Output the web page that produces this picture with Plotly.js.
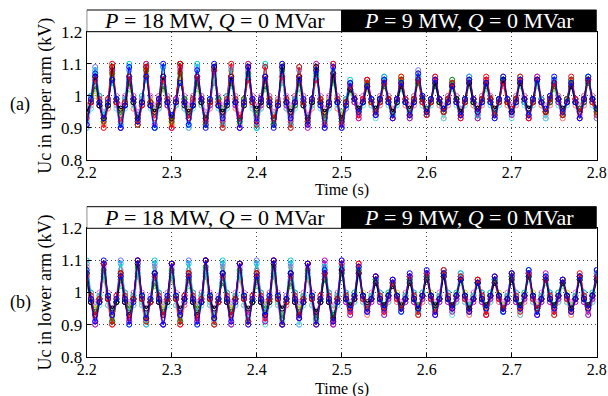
<!DOCTYPE html>
<html><head><meta charset="utf-8">
<script src="https://cdn.plot.ly/plotly-3.0.1.min.js"></script>
<style>html,body{margin:0;padding:0;background:#fff}#chart{width:608px;height:396px}</style>
</head><body><div id="chart"></div>
<script>
// sampling of every trace: first sample time and step (s)
const tStart = 2.2;
const tStep = 0.005;

const xTicks = [2.2, 2.3, 2.4, 2.5, 2.6, 2.7, 2.8];
const xTickText = ['2.2', '2.3', '2.4', '2.5', '2.6', '2.7', '2.8'];
const yTicks = [0.8, 0.9, 1.0, 1.1, 1.2];
const yTickText = ['0.8', '0.9', '1', '1.1', '1.2'];
const xTitle = 'Time (s)';
const yTitles = ['Uc in upper arm (kV)', 'Uc in lower arm (kV)'];
const panelLabels = ['(a)', '(b)'];

const stageLabels = ['<i>P</i> = 18 MW, <i>Q</i> = 0 MVar', '<i>P</i> = 9 MW, <i>Q</i> = 0 MVar'];
const stageChange = 2.5;

const traceColors = ['#ff7070', '#7070ff', '#d2d200', '#60d060', '#e070e0', '#60e0e0', '#c000c0', '#00d0d0', '#008000', '#000000', '#ff0000', '#0000ff'];

// Upper arm capacitor voltages (kV)
const upPink = [0.94,0.97,1.04,0.97, 0.91,0.96,1.07,0.97, 0.93,0.97,1.05,0.96, 0.92,0.97,1.08,0.97, 0.94,0.96,1.04,0.97, 0.91,0.97,1.08,0.96, 0.93,0.97,1.05,0.97, 0.92,0.96,1.07,0.97, 0.94,0.97,1.04,0.96, 0.91,0.97,1.08,0.97, 0.93,0.96,1.05,0.97, 0.92,0.97,1.07,0.96, 0.94,0.97,1.04,0.97, 0.91,0.96,1.08,0.97, 0.92,0.97,1.07,0.96, 0.91,
 0.97,1.02,0.98,0.93, 0.98,1.03,0.97,0.94, 0.97,1.04,0.98,0.93, 0.98,1.05,0.97,0.94, 0.97,1.04,0.98,0.95, 0.98,1.05,0.97,0.93, 0.97,1.03,0.98,0.94, 0.98,1.04,0.97,0.93, 0.97,1.05,0.98,0.94, 0.98,1.03,0.97,0.95, 0.97,1.04,0.98,0.93, 0.98,1.05,0.97,0.94, 0.97,1.04,0.98,0.93, 0.98,1.03,0.97,0.94, 0.97,1.05,0.98,0.93];
const upLightBlue = [0.90,0.98,1.09,0.98, 0.94,0.99,1.05,0.98, 0.91,0.98,1.08,0.99, 0.93,0.99,1.06,0.98, 0.90,0.98,1.09,0.99, 0.93,0.98,1.05,0.98, 0.90,0.99,1.09,0.98, 0.94,0.98,1.04,0.99, 0.91,0.98,1.09,0.98, 0.93,0.99,1.05,0.99, 0.90,0.98,1.09,0.98, 0.93,0.99,1.05,0.98, 0.91,0.98,1.08,0.99, 0.94,0.98,1.05,0.98, 0.90,0.99,1.10,0.98, 0.90,
 0.96,1.03,0.98,0.95, 0.98,1.04,0.99,0.94, 0.99,1.06,0.98,0.94, 0.98,1.05,0.99,0.93, 0.99,1.08,0.98,0.94, 0.98,1.06,0.99,0.95, 0.99,1.04,0.98,0.93, 0.98,1.05,0.99,0.94, 0.99,1.04,0.98,0.93, 0.98,1.06,0.99,0.95, 0.99,1.05,0.98,0.94, 0.98,1.06,0.99,0.93, 0.99,1.04,0.98,0.94, 0.98,1.05,0.99,0.95, 0.99,1.06,0.98,0.93];
const upYellow = [0.96,1.00,1.00,1.00, 0.92,0.98,1.09,0.99, 0.95,0.99,1.04,1.00, 0.93,0.98,1.10,0.99, 0.96,1.00,1.03,1.00, 0.91,0.98,1.10,0.99, 0.95,0.99,1.05,1.00, 0.93,0.98,1.09,0.99, 0.96,1.00,1.04,1.00, 0.91,0.99,1.10,0.99, 0.95,0.98,1.04,1.00, 0.92,0.99,1.10,0.99, 0.96,1.00,1.05,1.00, 0.91,0.98,1.09,0.99, 0.94,0.99,1.06,1.00, 0.94,
 0.99,1.03,1.00,0.96, 0.99,1.05,0.99,0.95, 1.00,1.04,1.00,0.96, 0.99,1.06,0.99,0.95, 1.00,1.07,1.00,0.96, 0.99,1.05,0.99,0.95, 1.00,1.04,1.00,0.96, 0.99,1.05,0.99,0.95, 1.00,1.05,1.00,0.96, 0.99,1.06,0.99,0.95, 1.00,1.04,1.00,0.96, 0.99,1.06,0.99,0.95, 1.00,1.05,1.00,0.96, 0.99,1.04,0.99,0.95, 1.00,1.06,1.00,0.96];
const upLightGreen = [0.96,0.98,1.02,0.98, 0.94,0.97,1.05,0.98, 0.96,0.98,1.02,0.99, 0.93,0.98,1.06,0.97, 0.96,0.98,1.02,0.98, 0.94,0.97,1.05,0.98, 0.96,0.99,1.02,0.98, 0.93,0.98,1.06,0.97, 0.96,0.98,1.03,0.98, 0.94,0.97,1.05,0.99, 0.96,0.98,1.02,0.98, 0.93,0.98,1.06,0.97, 0.96,0.99,1.02,0.98, 0.94,0.97,1.05,0.98, 0.95,0.98,1.04,0.98, 0.95,
 0.98,1.01,0.98,0.96, 0.98,1.02,0.98,0.96, 0.99,1.03,0.98,0.95, 0.98,1.02,0.98,0.96, 0.99,1.04,0.98,0.96, 0.98,1.03,0.98,0.95, 0.99,1.02,0.98,0.96, 0.98,1.03,0.98,0.96, 0.99,1.02,0.98,0.95, 0.98,1.04,0.98,0.96, 0.99,1.03,0.98,0.96, 0.98,1.03,0.98,0.95, 0.99,1.02,0.98,0.96, 0.98,1.03,0.98,0.96, 0.99,1.04,0.98,0.95];
const upLightMagenta = [0.97,1.00,1.04,1.00, 0.95,0.99,1.08,1.00, 0.97,1.00,1.03,1.00, 0.95,0.99,1.07,1.00, 0.97,1.00,1.04,1.00, 0.94,0.99,1.08,1.00, 0.97,1.00,1.03,1.00, 0.95,0.99,1.07,1.00, 0.97,1.00,1.04,1.00, 0.94,0.99,1.08,1.00, 0.97,1.00,1.03,1.00, 0.95,0.99,1.07,1.00, 0.97,1.00,1.04,1.00, 0.94,0.99,1.08,1.00, 0.96,1.00,1.05,1.00, 0.93,
 0.99,1.04,1.00,0.97, 1.00,1.03,0.99,0.96, 1.00,1.05,1.00,0.96, 0.99,1.04,0.99,0.97, 1.00,1.05,1.00,0.96, 0.99,1.04,0.99,0.97, 1.00,1.03,1.00,0.96, 0.99,1.04,0.99,0.97, 1.00,1.05,1.00,0.96, 0.99,1.04,0.99,0.97, 1.00,1.05,1.00,0.96, 0.99,1.04,0.99,0.97, 1.00,1.03,1.00,0.96, 0.99,1.04,0.99,0.97, 1.00,1.05,1.00,0.96];
const upLightCyan = [0.90,0.96,1.04,0.97, 0.92,0.97,1.06,0.96, 0.90,0.96,1.05,0.97, 0.91,0.97,1.07,0.96, 0.90,0.96,1.04,0.97, 0.92,0.97,1.06,0.96, 0.90,0.96,1.05,0.97, 0.91,0.97,1.07,0.96, 0.90,0.96,1.04,0.97, 0.92,0.97,1.06,0.96, 0.90,0.96,1.05,0.97, 0.91,0.97,1.07,0.96, 0.90,0.96,1.04,0.97, 0.92,0.97,1.06,0.96, 0.91,0.96,1.08,0.97, 0.92,
 0.97,1.03,0.98,0.94, 0.97,1.04,0.97,0.93, 0.98,1.05,0.97,0.94, 0.97,1.04,0.98,0.93, 0.98,1.06,0.97,0.94, 0.97,1.05,0.98,0.93, 0.98,1.04,0.97,0.94, 0.97,1.05,0.98,0.93, 0.98,1.04,0.97,0.94, 0.97,1.05,0.98,0.93, 0.98,1.06,0.97,0.94, 0.97,1.04,0.98,0.93, 0.98,1.05,0.97,0.94, 0.97,1.04,0.98,0.93, 0.98,1.05,0.97,0.94];
const upMagenta = [0.91,0.98,1.06,0.97, 0.93,0.97,1.08,0.98, 0.90,0.98,1.05,0.99, 0.94,0.97,1.10,0.98, 0.91,0.98,1.06,0.97, 0.90,0.99,1.09,0.98, 0.93,0.98,1.05,0.99, 0.91,0.97,1.09,0.98, 0.92,0.98,1.06,0.97, 0.90,0.98,1.10,0.99, 0.93,0.97,1.05,0.98, 0.91,0.98,1.09,0.97, 0.92,0.99,1.06,0.98, 0.90,0.98,1.10,0.98, 0.93,0.97,1.06,0.99, 0.92,
 0.98,1.04,0.98,0.93, 0.99,1.05,0.99,0.94, 0.98,1.05,0.98,0.95, 0.99,1.04,0.99,0.93, 0.98,1.06,0.98,0.94, 0.99,1.05,0.99,0.95, 0.98,1.04,0.98,0.94, 0.99,1.06,0.99,0.93, 0.98,1.05,0.98,0.95, 0.99,1.04,0.99,0.94, 0.98,1.05,0.98,0.93, 0.99,1.06,0.99,0.95, 0.98,1.05,0.98,0.94, 0.99,1.04,0.99,0.93, 0.98,1.05,0.98,0.95];
const upCyan = [0.92,1.00,1.08,1.00, 0.94,0.99,1.04,0.99, 0.91,0.99,1.10,0.99, 0.93,1.00,1.05,0.98, 0.90,0.99,1.09,0.99, 0.94,0.98,1.04,0.99, 0.91,0.99,1.10,0.98, 0.93,0.99,1.05,0.99, 0.91,1.00,1.08,0.99, 0.92,0.98,1.06,0.98, 0.90,0.99,1.10,0.99, 0.94,0.98,1.04,0.99, 0.91,0.99,1.09,0.98, 0.93,0.99,1.06,0.99, 0.92,0.98,1.07,0.99, 0.93,
 0.99,1.05,0.99,0.95, 0.98,1.03,0.99,0.96, 0.99,1.06,0.98,0.94, 0.98,1.05,0.99,0.95, 0.99,1.06,0.99,0.94, 0.98,1.04,0.98,0.96, 0.99,1.03,0.99,0.95, 0.98,1.06,0.99,0.94, 0.99,1.04,0.98,0.95, 0.98,1.05,0.99,0.96, 0.99,1.06,0.98,0.94, 0.98,1.04,0.99,0.95, 0.99,1.05,0.99,0.94, 0.98,1.04,0.98,0.96, 0.99,1.06,0.99,0.95];
const upGreen = [0.95,0.98,1.03,0.98, 0.92,0.97,1.07,0.99, 0.94,0.98,1.04,0.98, 0.91,0.98,1.08,0.98, 0.95,0.99,1.03,0.98, 0.92,0.98,1.07,0.99, 0.94,0.97,1.04,0.98, 0.91,0.98,1.08,0.99, 0.95,0.98,1.04,0.98, 0.92,0.99,1.07,0.98, 0.94,0.98,1.03,0.99, 0.91,0.98,1.08,0.98, 0.95,0.97,1.04,0.98, 0.92,0.98,1.07,0.99, 0.93,0.98,1.05,0.98, 0.92,
 0.97,1.02,0.99,0.96, 0.98,1.04,0.98,0.95, 0.98,1.03,0.99,0.95, 0.99,1.05,0.98,0.94, 0.98,1.04,0.99,0.96, 0.99,1.03,0.98,0.95, 0.98,1.05,0.99,0.95, 0.99,1.04,0.98,0.96, 0.98,1.03,0.99,0.94, 0.99,1.05,0.98,0.95, 0.98,1.04,0.99,0.96, 0.99,1.05,0.98,0.95, 0.98,1.03,0.99,0.94, 0.99,1.05,0.98,0.96, 0.98,1.04,0.99,0.95];
const upBlack = [0.95,0.98,1.06,0.97, 0.93,0.97,1.09,0.98, 0.96,0.97,1.06,0.98, 0.93,0.98,1.09,0.97, 0.95,0.97,1.06,0.98, 0.93,0.98,1.10,0.97, 0.95,0.97,1.06,0.98, 0.93,0.98,1.09,0.97, 0.95,0.97,1.06,0.98, 0.93,0.97,1.09,0.98, 0.96,0.98,1.06,0.97, 0.93,0.97,1.09,0.98, 0.95,0.98,1.06,0.97, 0.93,0.98,1.09,0.98, 0.95,0.97,1.07,0.98, 0.93,
 0.98,1.02,0.99,0.96, 0.98,1.03,0.98,0.96, 0.99,1.04,0.99,0.95, 0.98,1.03,0.98,0.96, 0.99,1.05,0.99,0.95, 0.98,1.04,0.98,0.96, 0.99,1.03,0.99,0.95, 0.98,1.04,0.98,0.96, 0.99,1.04,0.99,0.96, 0.98,1.05,0.98,0.95, 0.99,1.04,0.99,0.96, 0.98,1.05,0.98,0.95, 0.99,1.04,0.99,0.96, 0.98,1.03,0.98,0.95, 0.99,1.05,0.99,0.96];
const upRed = [0.93,0.98,1.05,0.99, 0.90,0.99,1.10,0.98, 0.92,0.98,1.06,0.99, 0.91,0.97,1.09,0.98, 0.93,0.99,1.05,0.99, 0.90,0.98,1.10,0.98, 0.93,0.99,1.06,0.99, 0.92,0.98,1.08,0.98, 0.90,0.99,1.10,0.99, 0.93,0.98,1.05,0.98, 0.91,0.99,1.09,0.99, 0.93,0.98,1.06,0.99, 0.90,0.98,1.09,0.98, 0.92,0.99,1.05,0.99, 0.91,0.98,1.10,0.99, 0.91,
 0.98,1.03,0.99,0.94, 0.99,1.05,0.98,0.95, 0.98,1.04,0.99,0.93, 0.99,1.06,0.99,0.94, 0.99,1.05,0.98,0.94, 0.98,1.06,0.99,0.95, 0.99,1.04,0.98,0.93, 0.98,1.05,0.99,0.95, 0.99,1.06,0.99,0.94, 0.98,1.04,0.98,0.96, 0.99,1.06,0.99,0.93, 0.98,1.05,0.98,0.95, 0.99,1.04,0.99,0.94, 0.98,1.06,0.99,0.95, 0.99,1.05,0.98,0.94];
const upBlue = [0.91,0.99,1.07,0.98, 0.93,0.98,1.05,0.99, 0.90,0.97,1.09,0.99, 0.92,0.98,1.06,0.97, 0.90,0.99,1.10,0.98, 0.94,0.98,1.04,0.98, 0.91,0.97,1.08,0.99, 0.90,0.99,1.10,0.97, 0.93,0.98,1.05,0.98, 0.90,0.98,1.09,0.99, 0.92,0.99,1.06,0.98, 0.90,0.97,1.10,0.98, 0.93,0.98,1.05,0.99, 0.91,0.99,1.08,0.97, 0.90,0.98,1.09,0.98, 0.90,
 0.97,1.04,0.99,0.95, 0.98,1.03,0.99,0.94, 0.99,1.05,0.98,0.93, 0.99,1.04,0.98,0.94, 0.98,1.07,1.00,0.95, 0.99,1.05,0.99,0.96, 0.98,1.03,0.98,0.94, 0.99,1.05,0.99,0.95, 0.98,1.04,0.98,0.93, 0.99,1.06,0.99,0.95, 0.98,1.05,0.99,0.94, 0.99,1.05,0.98,0.96, 1.00,1.06,0.99,0.95, 0.98,1.04,0.98,0.93, 0.99,1.06,0.99,0.96];

// Lower arm capacitor voltages (kV)
const loPink = [1.08,0.97,0.92,0.97, 1.04,0.96,0.90,0.97, 1.07,0.97,0.93,0.96, 1.05,0.96,0.90,0.97, 1.08,0.97,0.92,0.97, 1.04,0.96,0.90,0.96, 1.07,0.97,0.93,0.97, 1.05,0.96,0.90,0.97, 1.08,0.97,0.92,0.96, 1.04,0.96,0.90,0.97, 1.07,0.97,0.93,0.97, 1.05,0.96,0.90,0.96, 1.08,0.97,0.92,0.97, 1.04,0.96,0.91,0.97, 1.06,0.97,0.90,0.96, 1.09,
 0.98,0.94,0.97,1.09, 0.97,0.93,0.98,1.04, 0.98,0.94,0.97,1.03, 0.97,0.95,0.98,1.05, 0.98,0.93,0.97,1.05, 0.97,0.94,0.98,1.06, 0.98,0.95,0.97,1.04, 0.97,0.93,0.98,1.04, 0.98,0.94,0.97,1.03, 0.97,0.95,0.98,1.05, 0.98,0.93,0.97,1.06, 0.97,0.94,0.98,1.05, 0.98,0.95,0.97,1.03, 0.97,0.93,0.98,1.05, 0.98,0.94,0.97,1.06];
const loLightBlue = [1.09,0.98,0.91,0.98, 1.06,0.99,0.94,0.98, 1.10,0.98,0.91,0.99, 1.05,0.99,0.93,0.98, 1.09,0.98,0.90,0.98, 1.06,0.99,0.94,0.99, 1.10,0.98,0.91,0.98, 1.05,0.99,0.93,0.98, 1.09,0.98,0.90,0.99, 1.06,0.99,0.94,0.98, 1.10,0.98,0.91,0.98, 1.05,0.99,0.93,0.99, 1.09,0.98,0.90,0.98, 1.06,0.99,0.94,0.98, 1.09,0.98,0.90,0.99, 1.08,
 0.99,0.95,0.98,1.08, 0.98,0.94,0.99,1.05, 0.99,0.96,0.98,1.04, 0.98,0.94,0.99,1.05, 0.99,0.95,0.98,1.06, 0.98,0.94,0.99,1.07, 0.99,0.96,0.98,1.06, 0.98,0.94,0.99,1.03, 0.99,0.95,0.98,1.05, 0.98,0.94,0.99,1.06, 0.99,0.96,0.98,1.06, 0.98,0.94,0.99,1.05, 0.99,0.95,0.98,1.04, 0.98,0.94,0.99,1.05, 0.99,0.96,0.98,1.07];
const loYellow = [1.04,1.00,0.95,0.99, 1.09,0.99,0.91,0.98, 1.04,1.00,0.96,0.99, 1.10,0.99,0.91,0.98, 1.05,1.00,0.95,0.99, 1.09,0.99,0.92,0.98, 1.04,1.00,0.96,0.99, 1.10,0.99,0.91,0.98, 1.05,1.00,0.95,0.99, 1.09,0.99,0.92,0.98, 1.04,1.00,0.96,0.99, 1.10,0.99,0.91,0.98, 1.05,1.00,0.95,0.99, 1.09,0.99,0.91,0.98, 1.05,1.00,0.92,0.99, 1.06,
 0.99,0.95,1.00,1.06, 1.00,0.96,0.99,1.04, 0.99,0.95,1.00,1.03, 1.00,0.96,0.99,1.04, 0.99,0.94,1.00,1.05, 1.00,0.96,0.99,1.06, 0.99,0.95,1.00,1.05, 1.00,0.96,0.99,1.04, 0.99,0.93,1.00,1.04, 1.00,0.96,0.99,1.05, 0.99,0.95,1.00,1.06, 1.00,0.96,0.99,1.05, 0.99,0.95,1.00,1.04, 1.00,0.96,0.99,1.03, 0.99,0.95,1.00,1.05];
const loLightGreen = [1.02,0.98,0.96,0.98, 1.05,0.98,0.94,0.97, 1.02,0.99,0.96,0.98, 1.06,0.97,0.93,0.98, 1.02,0.98,0.96,0.98, 1.05,0.98,0.94,0.97, 1.02,0.98,0.96,0.99, 1.06,0.97,0.93,0.98, 1.03,0.98,0.96,0.98, 1.05,0.99,0.94,0.97, 1.02,0.98,0.96,0.98, 1.06,0.97,0.93,0.98, 1.02,0.98,0.96,0.99, 1.05,0.98,0.94,0.97, 1.04,0.98,0.95,0.98, 1.08,
 0.99,0.96,0.98,1.07, 0.98,0.96,0.98,1.03, 0.98,0.95,0.99,1.02, 0.98,0.96,0.98,1.03, 0.98,0.96,0.99,1.04, 0.98,0.95,0.98,1.05, 0.98,0.96,0.99,1.03, 0.98,0.96,0.98,1.02, 0.98,0.95,0.99,1.03, 0.98,0.96,0.98,1.04, 0.98,0.96,0.99,1.04, 0.98,0.95,0.98,1.03, 0.98,0.96,0.99,1.02, 0.98,0.96,0.98,1.04, 0.98,0.95,0.99,1.03];
const loLightMagenta = [1.04,1.00,0.97,1.00, 1.08,1.00,0.95,0.99, 1.03,1.00,0.97,1.00, 1.07,1.00,0.95,0.99, 1.04,1.00,0.97,1.00, 1.08,1.00,0.94,0.99, 1.03,1.00,0.97,1.00, 1.07,1.00,0.95,0.99, 1.04,1.00,0.97,1.00, 1.08,1.00,0.94,0.99, 1.03,1.00,0.97,1.00, 1.07,1.00,0.95,0.99, 1.04,1.00,0.97,1.00, 1.08,1.00,0.94,0.99, 1.05,1.00,0.96,1.00, 1.10,
 1.00,0.97,0.99,1.09, 0.99,0.96,1.00,1.05, 1.00,0.96,0.99,1.03, 0.99,0.97,1.00,1.04, 1.00,0.96,0.99,1.05, 0.99,0.97,1.00,1.06, 1.00,0.96,0.99,1.05, 0.99,0.97,1.00,1.03, 1.00,0.96,0.99,1.04, 0.99,0.97,1.00,1.05, 1.00,0.96,0.99,1.06, 0.99,0.97,1.00,1.04, 1.00,0.96,0.99,1.03, 0.99,0.97,1.00,1.05, 1.00,0.96,0.99,1.06];
const loLightCyan = [1.04,0.97,0.90,0.96, 1.06,0.96,0.92,0.97, 1.05,0.97,0.90,0.96, 1.07,0.96,0.91,0.97, 1.04,0.97,0.90,0.96, 1.06,0.96,0.92,0.97, 1.05,0.97,0.90,0.96, 1.07,0.96,0.91,0.97, 1.04,0.97,0.90,0.96, 1.06,0.96,0.92,0.97, 1.05,0.97,0.90,0.96, 1.07,0.96,0.91,0.97, 1.04,0.97,0.90,0.96, 1.06,0.96,0.92,0.97, 1.08,0.97,0.91,0.96, 1.06,
 0.97,0.93,0.97,1.05, 0.97,0.94,0.98,1.04, 0.97,0.93,0.97,1.03, 0.98,0.94,0.97,1.04, 0.97,0.93,0.98,1.05, 0.97,0.94,0.97,1.05, 0.98,0.93,0.97,1.04, 0.97,0.94,0.98,1.03, 0.97,0.93,0.97,1.04, 0.98,0.94,0.97,1.05, 0.97,0.93,0.98,1.05, 0.97,0.94,0.97,1.04, 0.98,0.93,0.97,1.03, 0.97,0.94,0.98,1.04, 0.97,0.93,0.97,1.05];
const loMagenta = [1.06,0.97,0.90,0.98, 1.09,0.98,0.93,0.97, 1.05,0.97,0.91,0.98, 1.10,0.98,0.92,0.97, 1.06,0.97,0.90,0.98, 1.09,0.98,0.93,0.97, 1.05,0.97,0.91,0.98, 1.10,0.98,0.92,0.97, 1.06,0.97,0.90,0.98, 1.09,0.98,0.93,0.97, 1.05,0.97,0.91,0.98, 1.10,0.98,0.90,0.97, 1.06,0.97,0.92,0.98, 1.09,0.98,0.93,0.97, 1.10,0.97,0.90,0.98, 1.07,
 0.97,0.93,0.98,1.06, 0.98,0.94,0.97,1.05, 0.97,0.93,0.98,1.04, 0.98,0.95,0.97,1.05, 0.97,0.94,0.98,1.06, 0.98,0.93,0.97,1.05, 0.97,0.94,0.98,1.05, 0.98,0.95,0.97,1.04, 0.97,0.93,0.98,1.03, 0.98,0.94,0.97,1.05, 0.97,0.95,0.98,1.06, 0.98,0.93,0.97,1.06, 0.97,0.94,0.98,1.04, 0.98,0.95,0.97,1.05, 0.97,0.93,0.98,1.05];
const loCyan = [1.10,1.00,0.93,0.99, 1.05,0.99,0.91,0.98, 1.09,1.00,0.94,0.99, 1.06,0.99,0.90,0.98, 1.10,1.00,0.93,0.99, 1.05,0.99,0.91,0.98, 1.09,1.00,0.94,0.99, 1.06,0.99,0.90,0.98, 1.10,1.00,0.93,0.99, 1.05,0.99,0.91,0.98, 1.09,1.00,0.94,0.99, 1.06,0.99,0.90,0.98, 1.10,1.00,0.93,0.99, 1.05,0.99,0.91,0.98, 1.08,1.00,0.93,0.99, 1.08,
 1.00,0.96,1.00,1.08, 0.99,0.95,0.99,1.04, 1.00,0.96,1.00,1.03, 0.99,0.95,0.99,1.04, 1.00,0.94,1.00,1.05, 0.99,0.96,0.99,1.07, 1.00,0.95,1.00,1.06, 0.99,0.96,0.99,1.03, 1.00,0.95,1.00,1.04, 0.99,0.94,0.99,1.06, 1.00,0.96,1.00,1.07, 0.99,0.95,0.99,1.05, 1.00,0.96,1.00,1.04, 0.99,0.95,0.99,1.04, 1.00,0.96,1.00,1.06];
const loGreen = [1.03,0.98,0.94,0.98, 1.07,0.99,0.91,0.97, 1.04,0.98,0.95,0.98, 1.08,0.99,0.92,0.97, 1.03,0.98,0.94,0.98, 1.07,0.99,0.91,0.98, 1.04,0.98,0.95,0.97, 1.08,0.99,0.92,0.98, 1.03,0.98,0.94,0.98, 1.07,0.99,0.91,0.97, 1.04,0.98,0.95,0.98, 1.08,0.99,0.92,0.97, 1.03,0.98,0.94,0.98, 1.07,0.99,0.92,0.98, 1.04,0.98,0.93,0.97, 1.06,
 0.98,0.96,0.99,1.07, 0.99,0.95,0.98,1.04, 0.98,0.96,0.99,1.03, 0.99,0.95,0.98,1.04, 0.98,0.96,0.99,1.05, 0.99,0.95,0.98,1.06, 0.98,0.96,0.99,1.04, 0.99,0.95,0.98,1.03, 0.98,0.96,0.99,1.04, 0.99,0.95,0.98,1.05, 0.98,0.96,0.99,1.05, 0.99,0.95,0.98,1.04, 0.98,0.96,0.99,1.03, 0.99,0.95,0.98,1.05, 0.98,0.96,0.99,1.04];
const loBlack = [1.06,0.97,0.93,0.97, 1.09,0.98,0.95,0.97, 1.06,0.97,0.93,0.98, 1.09,0.98,0.95,0.97, 1.06,0.97,0.93,0.97, 1.09,0.98,0.95,0.98, 1.06,0.97,0.93,0.97, 1.10,0.98,0.95,0.97, 1.06,0.97,0.93,0.98, 1.09,0.98,0.95,0.97, 1.06,0.97,0.93,0.97, 1.09,0.98,0.95,0.98, 1.06,0.97,0.93,0.97, 1.09,0.98,0.94,0.97, 1.06,0.97,0.92,0.98, 1.07,
 0.98,0.96,0.98,1.06, 0.99,0.97,0.98,1.03, 0.98,0.96,0.99,1.02, 0.99,0.96,0.98,1.03, 0.98,0.95,0.99,1.04, 0.99,0.96,0.98,1.05, 0.98,0.96,0.99,1.04, 0.99,0.95,0.98,1.03, 0.98,0.96,0.99,1.03, 0.99,0.95,0.98,1.04, 0.98,0.96,0.99,1.05, 0.99,0.95,0.98,1.04, 0.98,0.96,0.99,1.03, 0.99,0.95,0.98,1.04, 0.98,0.96,0.99,1.04];
const loRed = [1.05,0.99,0.93,0.98, 1.09,0.98,0.90,0.99, 1.06,0.99,0.92,0.98, 1.10,0.98,0.91,0.97, 1.05,0.99,0.93,0.98, 1.09,0.98,0.90,0.99, 1.06,0.99,0.92,0.98, 1.10,0.98,0.90,0.97, 1.05,0.99,0.93,0.98, 1.09,0.98,0.91,0.99, 1.06,0.99,0.92,0.98, 1.10,0.98,0.90,0.97, 1.05,0.99,0.93,0.98, 1.09,0.98,0.90,0.99, 1.06,0.99,0.91,0.98, 1.09,
 0.99,0.94,0.99,1.09, 0.98,0.95,0.98,1.05, 0.99,0.94,0.99,1.03, 0.98,0.95,0.98,1.05, 0.99,0.93,0.99,1.06, 0.98,0.94,0.98,1.07, 0.99,0.95,0.99,1.05, 0.98,0.94,0.98,1.04, 0.99,0.93,0.99,1.05, 0.98,0.95,0.98,1.06, 0.99,0.94,0.99,1.06, 0.98,0.95,0.98,1.04, 0.99,0.93,0.99,1.04, 0.98,0.94,0.98,1.06, 0.99,0.95,0.99,1.05];
const loBlue = [1.07,0.98,0.91,0.97, 1.10,0.99,0.93,0.98, 1.05,0.98,0.90,0.97, 1.10,0.99,0.92,0.98, 1.06,0.98,0.90,0.99, 1.09,0.99,0.93,0.98, 1.05,0.98,0.90,0.97, 1.10,0.99,0.92,0.98, 1.06,0.98,0.91,0.97, 1.09,0.99,0.90,0.98, 1.05,0.98,0.93,0.99, 1.10,0.99,0.90,0.98, 1.06,0.98,0.92,0.97, 1.09,0.99,0.90,0.98, 1.07,0.98,0.91,0.97, 1.10,
 0.98,0.95,0.99,1.08, 0.99,0.94,0.98,1.05, 0.98,0.95,0.99,1.04, 0.99,0.94,0.98,1.06, 0.98,0.95,0.99,1.07, 0.99,0.93,0.98,1.06, 0.98,0.95,0.99,1.04, 0.99,0.94,0.98,1.03, 0.98,0.95,0.99,1.05, 0.99,0.94,0.98,1.06, 0.98,0.95,0.99,1.07, 0.99,0.93,0.98,1.05, 0.98,0.95,0.99,1.04, 0.99,0.94,0.98,1.05, 0.98,0.95,0.99,1.07];

const upperSeries = [upPink, upLightBlue, upYellow, upLightGreen, upLightMagenta, upLightCyan, upMagenta, upCyan, upGreen, upBlack, upRed, upBlue];
const lowerSeries = [loPink, loLightBlue, loYellow, loLightGreen, loLightMagenta, loLightCyan, loMagenta, loCyan, loGreen, loBlack, loRed, loBlue];

function mk(vals, color, xa, ya) {
  const isBlack = color === '#000000';
  return {
    type: 'scatter', mode: 'lines+markers', x0: tStart, dx: tStep, y: vals,
    xaxis: xa, yaxis: ya, showlegend: false, hoverinfo: 'skip',
    line: {color: color, width: isBlack ? 1.3 : 1, shape: 'spline', smoothing: 0.7},
    marker: {symbol: 'circle-open', size: 5, color: color, line: {width: 1}}
  };
}
const data = [];
upperSeries.forEach((s, k) => data.push(mk(s, traceColors[k], 'x', 'y')));
lowerSeries.forEach((s, k) => data.push(mk(s, traceColors[k], 'x2', 'y2')));

const FONT = '"Liberation Serif", "Times New Roman", Times, serif';
const xDom = [86.7 / 608, 596.7 / 608];
const yDomA = [1 - 160 / 396, 1 - 31.7 / 396];
const yDomB = [1 - 356.7 / 396, 1 - 228.3 / 396];
const boxTopA = 1 - 10 / 396, boxTopB = 1 - 206.7 / 396;

function xAx(anchor) {
  return {domain: xDom, anchor: anchor, range: [xTicks[0], xTicks[xTicks.length - 1]],
    tickmode: 'array', tickvals: xTicks, ticktext: xTickText,
    ticks: 'inside', ticklen: 4, tickcolor: '#000', ticklabelstandoff: -2,
    showgrid: true, gridcolor: '#444', griddash: '1px,3px', gridwidth: 1,
    showline: true, mirror: true, linecolor: '#000', linewidth: 1, zeroline: false,
    tickfont: {family: FONT, size: 16, color: '#000'}};
}
function yAx(anchor, dom, title) {
  return {domain: dom, anchor: anchor, range: [yTicks[0], yTicks[yTicks.length - 1]],
    tickmode: 'array', tickvals: yTicks, ticktext: yTickText,
    ticks: 'inside', ticklen: 4, tickcolor: '#000',
    showgrid: true, gridcolor: '#444', griddash: '1px,3px', gridwidth: 1,
    showline: true, mirror: true, linecolor: '#000', linewidth: 1, zeroline: false,
    tickfont: {family: FONT, size: 17, color: '#000'},
    title: {text: title, font: {family: FONT, size: 18, color: '#000'}, standoff: 4}};
}

function boxes(xref, yBot, yTop) {
  return [
    {type: 'rect', xref: xref, yref: 'paper', x0: xTicks[0], x1: stageChange, y0: yBot, y1: yTop,
     fillcolor: '#fff', line: {color: '#000', width: 1}},
    {type: 'rect', xref: xref, yref: 'paper', x0: stageChange, x1: xTicks[xTicks.length - 1], y0: yBot, y1: yTop,
     fillcolor: '#000', line: {color: '#000', width: 1}}
  ];
}
function boxText(xref, yMid) {
  return [
    {xref: xref, yref: 'paper', x: (xTicks[0] + stageChange) / 2, y: yMid, text: stageLabels[0], showarrow: false,
     font: {family: FONT, size: 22, color: '#000'}, xanchor: 'center', yanchor: 'middle'},
    {xref: xref, yref: 'paper', x: (stageChange + xTicks[xTicks.length - 1]) / 2, y: yMid, text: stageLabels[1], showarrow: false,
     font: {family: FONT, size: 22, color: '#fff'}, xanchor: 'center', yanchor: 'middle'}
  ];
}
function axisTitle(xref, yPx) {
  return {xref: xref + ' domain', yref: 'paper', x: 0.5, y: 1 - yPx / 396, text: xTitle, showarrow: false,
    font: {family: FONT, size: 16, color: '#000'}, xanchor: 'center', yanchor: 'middle'};
}

const layout = {
  width: 608, height: 396, margin: {l: 0, r: 0, t: 0, b: 0},
  paper_bgcolor: '#fff', plot_bgcolor: '#fff', showlegend: false,
  xaxis: xAx('y'), yaxis: yAx('x', yDomA, yTitles[0]),
  xaxis2: xAx('y2'), yaxis2: yAx('x2', yDomB, yTitles[1]),
  shapes: [].concat(boxes('x', yDomA[1], boxTopA), boxes('x2', yDomB[1], boxTopB)),
  annotations: [].concat(
    boxText('x', (yDomA[1] + boxTopA) / 2), boxText('x2', (yDomB[1] + boxTopB) / 2),
    [axisTitle('x', 190), axisTitle('x2', 389),
     {xref: 'paper', yref: 'paper', x: 20 / 608, y: 1 - 104 / 396, text: panelLabels[0], showarrow: false,
      font: {family: FONT, size: 18, color: '#000'}, xanchor: 'center', yanchor: 'middle'},
     {xref: 'paper', yref: 'paper', x: 20 / 608, y: 1 - 302 / 396, text: panelLabels[1], showarrow: false,
      font: {family: FONT, size: 18, color: '#000'}, xanchor: 'center', yanchor: 'middle'}])
};

Plotly.newPlot('chart', data, layout, {displayModeBar: false, staticPlot: true});
</script>
</body></html>
